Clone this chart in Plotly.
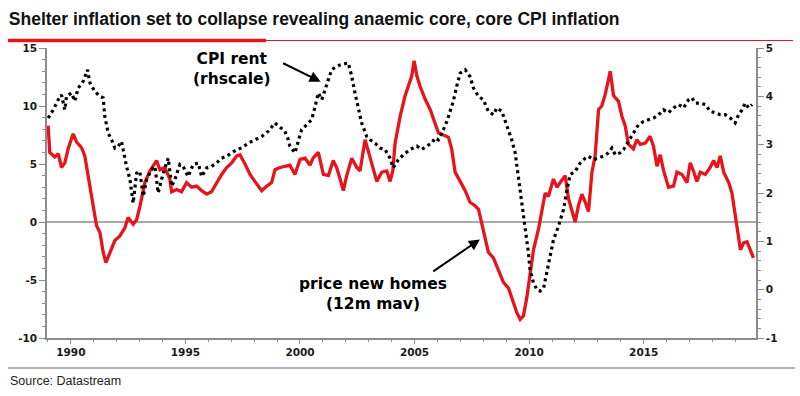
import plotly.graph_objects as go

# ---------------- data ----------------
homes_years = [1989.01, 1989.08, 1989.30, 1989.45, 1989.59, 1989.74, 1989.88, 1990.10, 1990.25, 1990.47,
               1990.61, 1990.83, 1990.97, 1991.12, 1991.27, 1991.41, 1991.53, 1991.70, 1991.92, 1992.14,
               1992.36, 1992.50, 1992.72, 1992.87, 1993.01, 1993.23, 1993.45, 1993.74, 1993.89, 1994.10,
               1994.32, 1994.40, 1994.62, 1994.83, 1995.05, 1995.27, 1995.49, 1995.71, 1995.93, 1996.14,
               1996.36, 1996.58, 1996.80, 1997.02, 1997.24, 1997.38, 1997.60, 1997.82, 1998.03, 1998.33,
               1998.55, 1998.76, 1998.91, 1999.13, 1999.34, 1999.56, 1999.78, 2000.00, 2000.22, 2000.44,
               2000.57, 2000.80, 2001.02, 2001.24, 2001.45, 2001.60, 2001.75, 2001.89, 2002.04, 2002.26,
               2002.48, 2002.62, 2002.84, 2002.98, 2003.20, 2003.35, 2003.57, 2003.79, 2003.93, 2004.05,
               2004.15, 2004.37, 2004.59, 2004.73, 2004.88, 2004.98, 2005.10, 2005.24, 2005.46, 2005.68,
               2005.82, 2006.04, 2006.26, 2006.48, 2006.62, 2006.77, 2006.99, 2007.21, 2007.42, 2007.64,
               2007.79, 2007.93, 2008.08, 2008.22, 2008.44, 2008.66, 2008.88, 2009.10, 2009.31, 2009.46,
               2009.61, 2009.75, 2009.90, 2010.04, 2010.19, 2010.41, 2010.55, 2010.70, 2010.84, 2011.06,
               2011.21, 2011.35, 2011.57, 2011.72, 2012.01, 2012.15, 2012.30, 2012.45, 2012.59, 2012.74,
               2012.88, 2013.03, 2013.17, 2013.32, 2013.42, 2013.54, 2013.68, 2013.90, 2014.05, 2014.19,
               2014.33, 2014.55, 2014.70, 2014.85, 2015.07, 2015.28, 2015.43, 2015.58, 2015.72, 2015.87,
               2016.08, 2016.30, 2016.45, 2016.67, 2016.89, 2017.03, 2017.17, 2017.32, 2017.47, 2017.69,
               2017.90, 2018.05, 2018.20, 2018.34, 2018.49, 2018.71, 2018.85, 2019.00, 2019.22, 2019.36,
               2019.51, 2019.65, 2019.79]
homes_values = [8.3, 6.0, 5.6, 5.9, 4.7, 5.1, 6.3, 7.6, 6.9, 6.4,
                5.7, 3.1, 1.4, -0.3, -0.9, -2.6, -3.5, -2.6, -1.6, -1.2,
                -0.5, 0.4, -0.2, 0.2, 1.3, 3.4, 4.4, 5.3, 4.5, 4.7,
                3.7, 2.6, 2.8, 2.6, 3.4, 3.0, 3.1, 2.7, 2.4, 2.6,
                3.4, 4.1, 4.7, 5.1, 5.7, 5.8, 5.0, 4.1, 3.5, 2.7,
                3.1, 3.4, 4.5, 4.7, 4.8, 4.9, 4.1, 5.4, 5.5, 4.9,
                5.5, 6.0, 4.1, 4.0, 5.3, 4.7, 3.7, 2.7, 4.0, 5.5,
                4.7, 4.4, 7.1, 6.1, 4.5, 3.5, 4.3, 4.4, 3.5, 4.4,
                6.8, 9.1, 10.9, 11.7, 12.6, 13.9, 12.6, 11.7, 10.6, 9.7,
                8.9, 7.7, 7.5, 7.3, 6.3, 4.3, 3.5, 2.7, 1.7, 1.4,
                1.1, -0.2, -1.5, -2.6, -3.1, -4.1, -5.2, -5.7, -6.9, -7.8,
                -8.4, -8.1, -6.5, -4.4, -2.4, -0.6, 0.8, 2.5, 2.2, 3.7,
                3.0, 3.4, 4.0, 2.0, 0.0, 1.4, 2.4, 1.7, 0.9, 4.3,
                5.7, 9.7, 10.0, 11.0, 12.0, 13.0, 10.9, 10.4, 9.1, 8.3,
                6.7, 6.3, 7.1, 6.7, 6.8, 7.4, 6.5, 4.8, 5.8, 4.4,
                3.0, 3.1, 4.3, 4.1, 3.4, 5.1, 4.4, 3.5, 4.3, 4.1,
                4.7, 5.3, 4.7, 5.7, 4.3, 3.4, 2.5, 0.5, -2.4, -1.8,
                -1.7, -2.4, -3.1]

rent_years = [1989.01, 1989.23, 1989.45, 1989.59, 1989.74, 1989.81, 1990.03, 1990.17, 1990.32, 1990.54,
              1990.73, 1990.83, 1991.05, 1991.27, 1991.41, 1991.48, 1991.63, 1991.78, 1991.92, 1992.07,
              1992.21, 1992.28, 1992.43, 1992.58, 1992.72, 1992.87, 1993.01, 1993.16, 1993.31, 1993.52,
              1993.67, 1993.81, 1994.03, 1994.25, 1994.40, 1994.54, 1994.76, 1994.90, 1995.12, 1995.34,
              1995.56, 1995.71, 1995.93, 1996.14, 1996.36, 1996.58, 1996.80, 1997.02, 1997.24, 1997.45,
              1997.74, 1998.03, 1998.33, 1998.62, 1998.91, 1999.13, 1999.34, 1999.49, 1999.56, 1999.78,
              1999.93, 2000.07, 2000.29, 2000.51, 2000.66, 2000.80, 2000.95, 2001.09, 2001.24, 2001.38,
              2001.60, 2001.82, 2002.11, 2002.26, 2002.40, 2002.55, 2002.69, 2002.91, 2003.06, 2003.28,
              2003.49, 2003.71, 2003.93, 2004.07, 2004.29, 2004.51, 2004.80, 2005.10, 2005.31, 2005.53,
              2005.75, 2005.90, 2006.04, 2006.26, 2006.41, 2006.55, 2006.69, 2006.84, 2006.99, 2007.21,
              2007.42, 2007.57, 2007.79, 2008.00, 2008.22, 2008.44, 2008.59, 2008.81, 2009.03, 2009.24,
              2009.39, 2009.53, 2009.68, 2009.83, 2009.97, 2010.04, 2010.19, 2010.34, 2010.48, 2010.63,
              2010.77, 2010.92, 2011.06, 2011.28, 2011.50, 2011.65, 2011.79, 2012.01, 2012.23, 2012.45,
              2012.59, 2012.81, 2013.03, 2013.24, 2013.46, 2013.61, 2013.76, 2013.97, 2014.12, 2014.34,
              2014.55, 2014.77, 2014.99, 2015.21, 2015.43, 2015.65, 2015.86, 2016.08, 2016.30, 2016.52,
              2016.74, 2016.96, 2017.10, 2017.25, 2017.47, 2017.69, 2017.90, 2018.12, 2018.34, 2018.56,
              2018.78, 2018.99, 2019.14, 2019.29, 2019.43, 2019.58, 2019.73]
rent_values = [3.55, 3.72, 3.93, 4.03, 3.72, 4.00, 4.07, 3.90, 4.17, 4.31,
               4.55, 4.28, 4.10, 4.00, 3.97, 3.59, 3.24, 3.10, 2.93, 2.97,
               3.07, 2.90, 2.55, 2.28, 1.79, 2.41, 2.45, 1.93, 2.28, 2.48,
               2.55, 2.00, 2.41, 2.72, 2.14, 2.28, 2.59, 2.55, 2.34, 2.59,
               2.62, 2.34, 2.52, 2.55, 2.62, 2.72, 2.76, 2.83, 2.90, 2.93,
               3.03, 3.10, 3.17, 3.28, 3.45, 3.36, 3.28, 3.10, 2.97, 2.83,
               3.10, 3.31, 3.41, 3.52, 3.79, 4.07, 3.93, 4.14, 4.34, 4.55,
               4.62, 4.66, 4.69, 4.41, 4.07, 3.72, 3.45, 3.17, 3.10, 3.03,
               2.93, 2.90, 2.72, 2.52, 2.69, 2.79, 2.90, 2.97, 2.90, 2.97,
               3.03, 3.14, 3.10, 3.31, 3.48, 3.69, 3.90, 4.21, 4.48, 4.55,
               4.41, 4.17, 4.00, 3.93, 3.69, 3.62, 3.76, 3.69, 3.41, 3.10,
               2.83, 2.34, 1.86, 1.31, 0.76, 0.41, 0.14, 0.00, -0.03, 0.03,
               0.34, 0.69, 1.03, 1.31, 1.66, 2.07, 2.38, 2.45, 2.62, 2.72,
               2.76, 2.69, 2.72, 2.76, 2.83, 2.93, 2.79, 2.83, 2.90, 3.07,
               3.24, 3.41, 3.48, 3.52, 3.55, 3.62, 3.72, 3.66, 3.76, 3.83,
               3.76, 3.93, 3.97, 3.86, 3.86, 3.83, 3.69, 3.66, 3.62, 3.62,
               3.55, 3.45, 3.62, 3.72, 3.86, 3.76, 3.83]

x_tickvals = [1990, 1995, 2000, 2005, 2010, 2015]
x_ticktext = ["1990", "1995", "2000", "2005", "2010", "2015"]
left_ticks = [-10, -5, 0, 5, 10, 15]
left_ticktext = ["-10", "-5", "0", "5", "10", "15"]
right_ticks = [-1, 0, 1, 2, 3, 4, 5]
right_ticktext = ["-1", "0", "1", "2", "3", "4", "5"]

title_text = "Shelter inflation set to collapse revealing anaemic core, core CPI inflation"
source_text = "Source: Datastream"
rent_label = "CPI rent<br>(rhscale)"
homes_label = "price new homes<br>(12m mav)"

# ---------------- styling ----------------
RED = "#e8141b"
AXIS = "#8c8c8c"
TICKFONT = dict(family="DejaVu Sans", size=10.5, color="#1a1a1a", weight="bold")
ANNFONT = dict(family="DejaVu Sans", size=15.5, color="#000000", weight="bold")
NARROW = "Liberation Sans Narrow, Arial Narrow, Liberation Sans, Arial, sans-serif"

fig = go.Figure()
fig.add_trace(go.Scatter(x=homes_years, y=homes_values, mode="lines",
                         line=dict(color=RED, width=3.3), yaxis="y", showlegend=False))
fig.add_trace(go.Scatter(x=rent_years, y=rent_values, mode="lines",
                         line=dict(color="#000000", width=3.2, dash="3px,3.5px"),
                         yaxis="y2", showlegend=False))

fig.update_layout(
    width=800, height=396,
    margin=dict(l=47, r=44, t=48, b=58),
    paper_bgcolor="white", plot_bgcolor="white",
    showlegend=False,
    title=dict(text=title_text, x=0.011, xanchor="left", xref="container",
               y=1 - 19 / 396, yanchor="middle", yref="container",
               font=dict(family=NARROW, size=17.5, color="#111111", weight="bold")),
    xaxis=dict(range=[1988.96, 2019.9], tickvals=x_tickvals, ticktext=x_ticktext,
               showgrid=False, zeroline=False, showline=True, linecolor=AXIS, linewidth=1.5,
               ticks="outside", ticklen=4, tickwidth=1.2, tickcolor=AXIS, tickfont=TICKFONT,
               minor=dict(dtick=1, tick0=1990, ticks="outside", ticklen=2.5, tickcolor=AXIS, tickwidth=1.2)),
    yaxis=dict(range=[-10, 15], tickvals=left_ticks, ticktext=left_ticktext, showgrid=False,
               zeroline=True, zerolinecolor="#a8a8a8", zerolinewidth=1.5,
               showline=True, linecolor=AXIS, linewidth=1.5,
               ticks="outside", ticklen=6, tickwidth=1.2, tickcolor=AXIS, tickfont=TICKFONT,
               minor=dict(dtick=1, tick0=0, ticks="outside", ticklen=3, tickcolor=AXIS, tickwidth=1.2)),
    yaxis2=dict(range=[-1, 5], tickvals=right_ticks, ticktext=right_ticktext, overlaying="y", side="right",
                showgrid=False, zeroline=False, showline=True, linecolor=AXIS, linewidth=1.5,
                ticks="outside", ticklen=6, tickwidth=1.2, tickcolor=AXIS, tickfont=TICKFONT,
                minor=dict(dtick=0.2, tick0=0, ticks="outside", ticklen=3, tickcolor=AXIS, tickwidth=1.2)),
)

# decorative rules under title and above source (paper coordinates)
plot_l, plot_r, plot_t, plot_b = 47, 756, 48, 338
def px_x(px):
    return (px - plot_l) / (plot_r - plot_l)
def px_y(py):
    return (plot_b - py) / (plot_b - plot_t)

fig.add_shape(type="line", xref="paper", yref="paper", x0=px_x(8), x1=px_x(793), y0=px_y(40.5), y1=px_y(40.5),
              line=dict(color=RED, width=1.2))
fig.add_shape(type="line", xref="paper", yref="paper", x0=px_x(8), x1=px_x(266), y0=px_y(40.5), y1=px_y(40.5),
              line=dict(color=RED, width=3.5))
fig.add_shape(type="line", xref="paper", yref="paper", x0=px_x(8), x1=px_x(795), y0=px_y(368), y1=px_y(368),
              line=dict(color="#9a9a9a", width=1.5))
fig.add_annotation(text=source_text, xref="paper", yref="paper", x=px_x(8), y=px_y(381),
                   xanchor="left", yanchor="middle", showarrow=False,
                   font=dict(family=NARROW, size=12.5, color="#222222"))

# labels with arrows (data coordinates)
fig.add_annotation(text=rent_label, x=1997.05, y=13.2, xref="x", yref="y", showarrow=False,
                   xanchor="center", yanchor="middle", align="center", font=ANNFONT)
fig.add_annotation(text="", x=2000.9, y=12.1, ax=1999.2, ay=13.75, xref="x", yref="y",
                   axref="x", ayref="y", showarrow=True, arrowhead=2, arrowsize=1.1,
                   arrowwidth=2, arrowcolor="#000000")
fig.add_annotation(text=homes_label, x=2003.2, y=-6.2, xref="x", yref="y", showarrow=False,
                   xanchor="center", yanchor="middle", align="center", font=ANNFONT)
fig.add_annotation(text="", x=2007.85, y=-1.5, ax=2005.75, ay=-4.35, xref="x", yref="y",
                   axref="x", ayref="y", showarrow=True, arrowhead=2, arrowsize=1.1,
                   arrowwidth=2, arrowcolor="#000000")

fig.write_html("out.html", config={"displayModeBar": False},
               post_script="document.body.style.margin='0';document.body.style.padding='0';")
